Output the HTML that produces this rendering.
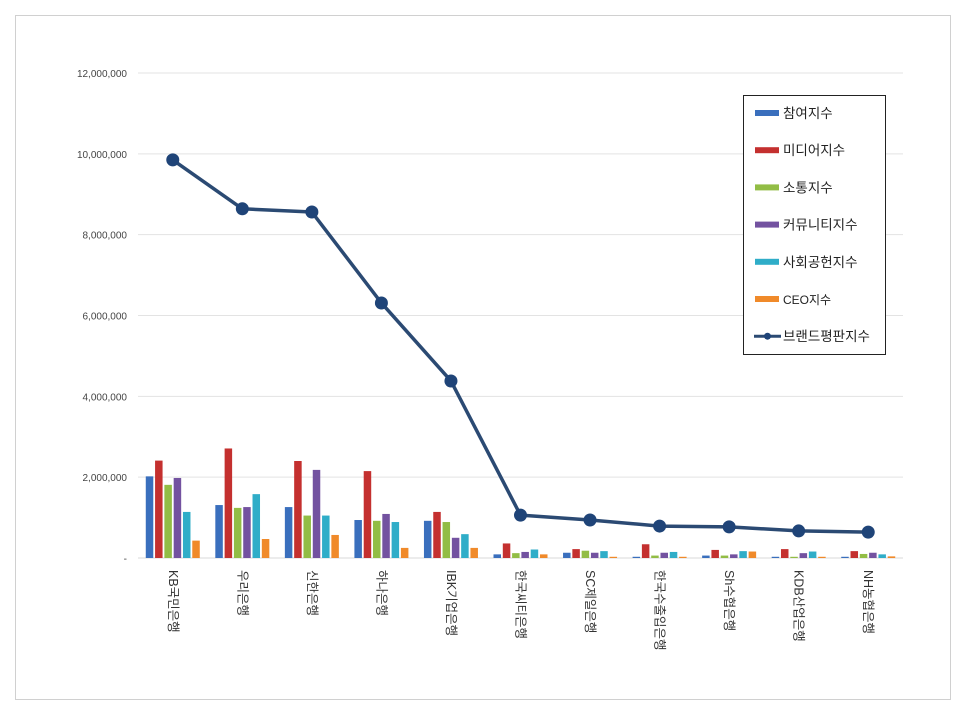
<!DOCTYPE html>
<html><head><meta charset="utf-8"><style>
body{margin:0;background:#fff;}
svg{display:block;font-family:"Liberation Sans","Noto Sans CJK KR",sans-serif;}
</style></head><body>
<svg id="chart" width="966" height="714">
<rect x="15.5" y="15.5" width="935" height="684" fill="#fff" stroke="#d0d0d0"/>
<g id="grid"></g><g id="bars"></g><g id="line"></g><g id="xlabels"></g>
<g id="legend">
<rect x="743.5" y="95.5" width="142" height="259" fill="#fff" stroke="#222"/>
</g>
</svg>
<script>
const categories=["KB국민은행","우리은행","신한은행","하나은행","IBK기업은행","한국씨티은행","SC제일은행","한국수출입은행","Sh수협은행","KDB산업은행","NH농협은행"];
const seriesNames=["참여지수","미디어지수","소통지수","커뮤니티지수","사회공헌지수","CEO지수"];
const participation=[2020000,1310000,1260000,940000,920000,90000,130000,30000,60000,30000,30000];
const media=[2410000,2710000,2400000,2150000,1140000,360000,220000,340000,200000,220000,170000];
const communication=[1810000,1240000,1050000,920000,890000,120000,180000,60000,60000,30000,100000];
const community=[1980000,1260000,2180000,1090000,500000,150000,130000,130000,90000,120000,130000];
const social=[1140000,1580000,1050000,890000,590000,210000,170000,150000,170000,160000,90000];
const ceo=[430000,470000,570000,250000,250000,90000,30000,30000,160000,30000,40000];
const brandIndex=[9850000,8640000,8560000,6310000,4380000,1060000,940000,790000,770000,670000,640000];
const yTicks=[0,2000000,4000000,6000000,8000000,10000000,12000000];
const yTickLabels=["-","2,000,000","4,000,000","6,000,000","8,000,000","10,000,000","12,000,000"];
const colors=["#3a6fbd","#c4302f","#92bd45","#7352a0","#2fadc8","#f08a2a"];
const NS="http://www.w3.org/2000/svg";
const x0=138,x1=903,yBase=558,yTop=73;
const step=(x1-x0)/categories.length;
const xc=i=>x0+step*(i+0.5);
const yv=v=>yBase-(v/12000000)*(yBase-yTop);
function mk(t,a,p){const e=document.createElementNS(NS,t);for(const k in a)e.setAttribute(k,a[k]);p.appendChild(e);return e;}
const grid=document.getElementById('grid');
yTicks.forEach((t,i)=>{
 const l=mk('line',{x1:x0,x2:x1,y1:yv(t),y2:yv(t),stroke:i===0?'#d9d9d9':'#e3e3e3'},grid);
 
 
 const tx=mk('text',{x:127,y:yv(t)+4,'text-anchor':'end','font-size':10,fill:'#444'},grid);
 tx.textContent=yTickLabels[i];
 
 
});
const series=[participation,media,communication,community,social,ceo];
const bars=document.getElementById('bars');
const bw=7.5,pitch=9.3;
series.forEach((s,si)=>{
 s.forEach((v,i)=>{
  const x=xc(i)-pitch*2.5+si*pitch-bw/2;
  const r=mk('rect',{x:x,y:yv(v),width:bw,height:yBase-yv(v),fill:colors[si]},bars);
  
  
 });
});
const lg=document.getElementById('line');
const pts=brandIndex.map((v,i)=>xc(i)+','+yv(v)).join(' ');
const pl=mk('polyline',{points:pts,fill:'none',stroke:'#2b4a73','stroke-width':3.5,'stroke-linejoin':'round'},lg);


brandIndex.forEach((v,i)=>{
 const c=mk('circle',{cx:xc(i),cy:yv(v),r:6.5,fill:'#1f4478'},lg);
 
 
});
const xl=document.getElementById('xlabels');
categories.forEach((c,i)=>{
 const t=mk('text',{x:0,y:0,'font-size':12.5,fill:'#333',transform:`translate(${xc(i)-4},570) rotate(90)`},xl);
 t.textContent=c;
 
 
});
const leg=document.getElementById('legend');
seriesNames.concat(["브랜드평판지수"]).forEach((n,i)=>{
 const y=113+i*37.2;
 if(i<6){
  const r=mk('rect',{x:755,y:y-3,width:24,height:6,fill:colors[i]},leg);
  
  
 }else{
  const l=mk('line',{x1:754,x2:781,y1:y,y2:y,stroke:'#2b4a73','stroke-width':3},leg);
  
  
  const c=mk('circle',{cx:767.5,cy:y,r:3.5,fill:'#1f4478'},leg);
  
  
 }
 const t=mk('text',{x:783,y:y+5,'font-size':i===5?12:13.5,fill:'#222'},leg);
 t.textContent=n;
 
 
});
</script>
</body></html>
